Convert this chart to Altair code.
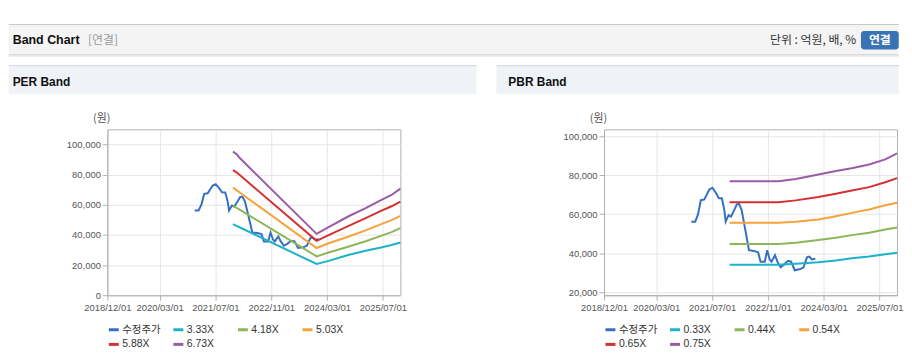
import altair as alt
import pandas as pd

# ---------------- data ----------------
price_dates = ["2021-01-01", "2021-02-04", "2021-02-28", "2021-03-25", "2021-04-25", "2021-05-13",
               "2021-06-07", "2021-07-04", "2021-08-04", "2021-08-28", "2021-09-25", "2021-10-16",
               "2021-10-28", "2021-11-22", "2021-12-13", "2022-01-10", "2022-02-01", "2022-02-21",
               "2022-03-16", "2022-04-13", "2022-05-19", "2022-07-01", "2022-08-07", "2022-08-28",
               "2022-10-04", "2022-10-25", "2022-11-16", "2022-12-01", "2023-01-01", "2023-01-22",
               "2023-02-19", "2023-03-19", "2023-04-25", "2023-05-22", "2023-06-22", "2023-08-10",
               "2023-09-07", "2023-10-07", "2023-10-28", "2023-11-19", "2023-12-19"]
price_values = [56200, 56200, 59900, 67200, 67600, 69800, 72700, 73600, 70900, 68300, 68100, 62100,
                56200, 59500, 58800, 62100, 65000, 65400, 62100, 53300, 41600, 41200, 40500, 35700,
                35700, 41600, 36800, 35700, 39000, 35700, 32800, 34100, 36100, 35700, 31300, 31900,
                32800, 37900, 38300, 36800, 37200]
price_label = "수정주가"

per_dates = ["2021-12-01", "2022-01-01", "2022-02-01", "2023-12-01", "2024-03-15",
             "2024-09-01", "2025-02-01", "2025-06-15", "2025-09-15", "2025-12-01"]
per_labels = ["3.33X", "4.18X", "5.03X", "5.88X", "6.73X"]
per_333 = [47100, 46000, 44900, 20700, 22800, 26700, 29500, 31600, 33300, 35000]
per_418 = [59300, 58000, 56600, 25800, 28300, 32100, 35800, 39400, 41800, 44500]
per_503 = [71400, 69700, 68000, 31300, 34500, 38800, 43000, 47200, 49800, 52600]
per_588 = [83000, 81500, 79500, 36100, 39900, 45800, 51100, 55900, 59000, 62100]
per_673 = [95200, 93600, 90800, 40700, 45200, 52200, 57700, 63000, 66500, 70700]

pbr_dates = ["2021-12-01", "2023-02-01", "2023-07-01", "2024-01-15", "2024-06-15",
             "2024-11-01", "2025-04-01", "2025-08-20", "2025-12-01"]
pbr_labels = ["0.33X", "0.44X", "0.54X", "0.65X", "0.75X"]
pbr_033 = [34100, 34100, 34600, 35400, 36300, 37500, 38300, 39500, 40300]
pbr_044 = [44800, 44800, 45400, 46800, 48000, 49300, 50500, 52200, 53200]
pbr_054 = [55600, 55600, 56100, 57300, 59000, 60700, 62400, 64600, 65900]
pbr_065 = [66100, 66100, 67100, 68800, 70500, 72200, 73900, 76400, 78500]
pbr_075 = [76900, 76900, 78100, 80400, 82200, 83600, 85500, 88100, 91200]

x_tick_dates = [(2018, 12, 1), (2020, 3, 1), (2021, 7, 1), (2022, 11, 1), (2024, 3, 1), (2025, 7, 1)]
x_domain = [(2018, 12, 1), (2025, 12, 1)]
per_y_ticks = [0, 20000, 40000, 60000, 80000, 100000]
pbr_y_ticks = [20000, 40000, 60000, 80000, 100000]

colors = ["#3670c0", "#1cb2c9", "#8db656", "#f5a33a", "#d43030", "#9a5ba8"]

LATIN = "Liberation Sans, Noto Sans CJK KR, sans-serif"
KOR = "Noto Sans CJK KR, sans-serif"

W, H = 295, 167


def build_df(band_dates, labels, bands):
    rows = [{"date": d, "value": v, "series": price_label} for d, v in zip(price_dates, price_values)]
    for lab, vals in zip(labels, bands):
        rows += [{"date": d, "value": v, "series": lab} for d, v in zip(band_dates, vals)]
    return pd.DataFrame(rows)


def dt(t):
    return alt.DateTime(year=t[0], month=t[1], date=t[2], utc=True)


def one():
    return alt.Data(values=[{"a": 1}])


def rect(x, x2, y, y2, color, **kw):
    return alt.Chart(one()).mark_rect(color=color, **kw).encode(
        x=alt.value(x), x2=alt.value(x2), y=alt.value(y), y2=alt.value(y2))


def text(s, x, y, **kw):
    return alt.Chart(one()).mark_text(text=s, **kw).encode(x=alt.value(x), y=alt.value(y))


def line_chart(df, labels, ydomain, yticks):
    return alt.Chart(df).mark_line(strokeWidth=2).encode(
        x=alt.X("date:T",
                scale=alt.Scale(type="utc", domain=[dt(x_domain[0]), dt(x_domain[1])]),
                axis=alt.Axis(values=[dt(t) for t in x_tick_dates],
                              labelExpr="utcFormat(datum.value, '%Y/%m/%d')",
                              title=None, labelOverlap=False, labelFlush=False,
                              labelBound=False)),
        y=alt.Y("value:Q", scale=alt.Scale(domain=ydomain, nice=False, zero=False),
                axis=alt.Axis(values=yticks, format=",d", title=None, labelFlush=False)),
        color=alt.Color("series:N",
                        scale=alt.Scale(domain=[price_label] + labels, range=colors),
                        legend=alt.Legend(title=None, orient="none", legendX=0, legendY=195,
                                          direction="horizontal", columns=4, gridAlign="all",
                                          symbolType="stroke", symbolStrokeWidth=3, symbolSize=100,
                                          labelFont=LATIN, labelFontSize=10.5, labelColor="#333",
                                          labelOffset=2, columnPadding=6, rowPadding=2, padding=0)),
    )


per_df = build_df(per_dates, per_labels, [per_333, per_418, per_503, per_588, per_673])
pbr_df = build_df(pbr_dates, pbr_labels, [pbr_033, pbr_044, pbr_054, pbr_065, pbr_075])

# page decorations (header bar, panel title bars) for the left panel
left_deco = [
    rect(-99.3, 796.7, -105.7, -104.7, "#b8b8b8"),
    rect(-99.3, 796.7, -104.7, -75.7, "#f4f4f4"),
    rect(-99.3, 796.7, -75.7, -74.3, "#cfcfcf"),
    rect(-99.3, 796.7, -74.3, -73, "#e9e9e9"),
    text("Band Chart", -95.3, -90, align="left", baseline="middle", font=LATIN,
         fontSize=12.5, fontWeight="bold", color="#111"),
    text("[연결]", -19.5, -90, align="left", baseline="middle", font=KOR,
         fontSize=12, color="#999"),
    text("단위 : 억원, 배, %", 754, -90, align="right", baseline="middle", font=KOR,
         fontSize=12, color="#333"),
    rect(758.7, 796.7, -99, -80.5, "#3873b5", cornerRadius=3),
    text("연결", 777.7, -90, align="center", baseline="middle", font=KOR,
         fontSize=12, fontWeight="bold", color="#ffffff"),
    rect(-99.3, 371.7, -64.7, -63.3, "#d6d9dd"),
    rect(-99.3, 371.7, -63.3, -35.7, "#eff2f7"),
    text("PER Band", -95.3, -48, align="left", baseline="middle", font=LATIN,
         fontSize=12, fontWeight="bold", color="#111"),
    text("(원)", -5.6, -10, align="center", baseline="middle", font=KOR,
         fontSize=11, color="#555"),
]

right_deco = [
    rect(-108.3, 296.7, -64.7, -63.3, "#d6d9dd"),
    rect(-108.3, 296.7, -63.3, -35.7, "#eff2f7"),
    text("PBR Band", -96.3, -48, align="left", baseline="middle", font=LATIN,
         fontSize=12, fontWeight="bold", color="#111"),
    text("(원)", -5.6, -10, align="center", baseline="middle", font=KOR,
         fontSize=11, color="#555"),
]

per = alt.layer(*left_deco, line_chart(per_df, per_labels, [0, 110000], per_y_ticks)).properties(
    width=W, height=H)
pbr = alt.layer(*right_deco, line_chart(pbr_df, pbr_labels, [18500, 103500], pbr_y_ticks)).properties(
    width=W, height=H)

chart = alt.hconcat(per, pbr, spacing=205, bounds="flush").resolve_scale(
    color="independent", x="independent", y="independent"
).properties(
    padding={"top": 14, "left": 0, "right": 0, "bottom": 0}, background="#ffffff"
).configure_view(
    stroke="#b0b0b0", strokeWidth=1
).configure_axis(
    labelFont=LATIN, labelFontSize=9.5, labelColor="#555", domainColor="#b0b0b0",
    tickColor="#b0b0b0", tickSize=5, gridColor="#e6e6e6", labelPadding=2, domainWidth=1
)

chart.save("out.html", embed_options={"renderer": "svg", "actions": False})
